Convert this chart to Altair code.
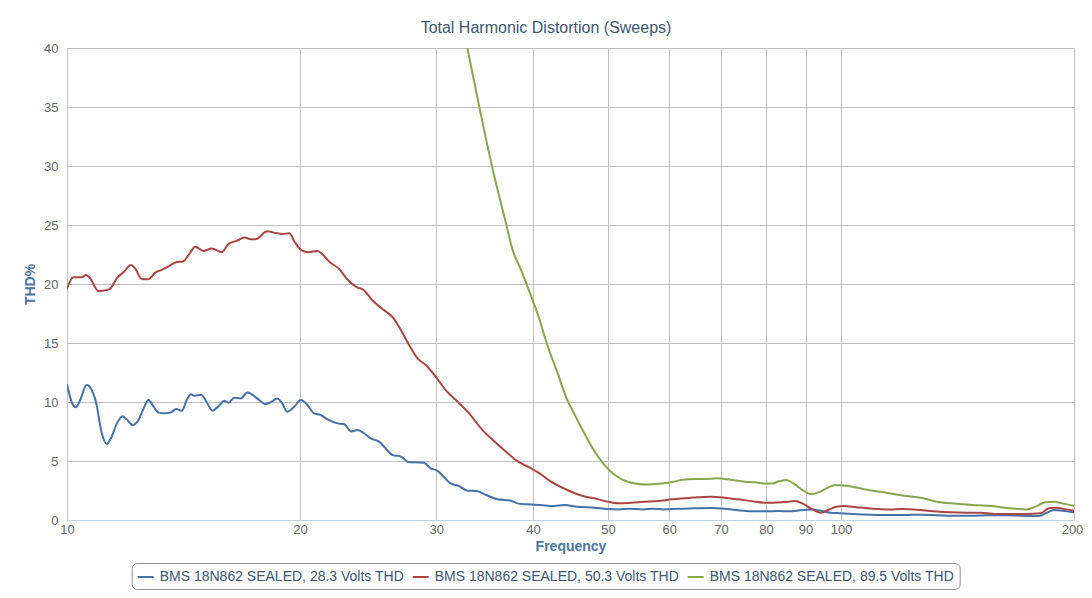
import altair as alt
import pandas as pd

series_names = [
    "BMS 18N862 SEALED, 28.3 Volts THD",
    "BMS 18N862 SEALED, 50.3 Volts THD",
    "BMS 18N862 SEALED, 89.5 Volts THD",
]
series_colors = ["#4572A7", "#AA4643", "#89A54E"]

x_ticks = [10, 20, 30, 40, 50, 60, 70, 80, 90, 100, 200]
y_ticks = [0, 5, 10, 15, 20, 25, 30, 35, 40]

blue_freq = [10.0, 10.14, 10.27, 10.4, 10.6, 10.8, 10.9, 11.09, 11.26, 11.42, 11.6, 11.8, 11.94,
             12.16, 12.37, 12.56, 12.74, 12.94, 13.13, 13.33, 13.6, 13.84, 14.07, 14.28, 14.45,
             14.63, 14.92, 15.15, 15.42, 15.7, 15.97, 16.17, 16.45, 16.75, 17.12, 17.43, 17.69,
             18.05, 18.32, 18.69, 18.96, 19.25, 19.63, 20.05, 20.45, 20.85, 21.27, 21.71, 22.37,
             22.8, 23.3, 23.73, 24.2, 24.68, 25.3, 25.8, 26.36, 27.0, 27.67, 28.2, 28.9, 29.5,
             30.1, 30.7, 31.3, 32.1, 32.93, 33.8, 34.8, 36.0, 37.5, 38.2, 39.4, 40.9, 42.6, 43.9,
             45.6, 48.0, 50.0, 51.6, 53.2, 55.3, 57.2, 59.0, 61.7, 64.7, 67.9, 70.7, 73.6, 76.6,
             79.8, 83.2, 85.8, 88.5, 91.2, 94.5, 96.8, 99.9, 103.8, 109.4, 115, 120.9, 127.1,
             133.6, 140.4, 147.6, 155.1, 163, 171.3, 180.2, 184.5, 188.3, 193.2, 200]
blue_thd = [11.5, 10.0, 9.55, 10.17, 11.44, 10.8, 10.0, 7.35, 6.44, 7.06, 8.19, 8.8, 8.53,
            8.05, 8.47, 9.46, 10.2, 9.6, 9.1, 9.04, 9.1, 9.4, 9.26, 10.17, 10.65,
            10.53, 10.6, 10.0, 9.26, 9.66, 10.1, 9.94, 10.36, 10.3, 10.8, 10.53, 10.2,
            9.83, 9.97, 10.3, 9.9, 9.18, 9.55, 10.17, 9.75, 9.04, 8.9, 8.53, 8.19,
            8.13, 7.5, 7.63, 7.35, 6.92, 6.64, 6.07, 5.5, 5.37, 4.89, 4.89, 4.86, 4.38,
            4.18, 3.62, 3.1, 2.88, 2.48, 2.46, 2.12, 1.75, 1.64, 1.41, 1.33, 1.27, 1.19, 1.27,
            1.13, 1.04, 0.93, 0.9, 0.96, 0.9, 0.96, 0.9, 0.96, 0.99, 1.02, 0.96, 0.82, 0.74,
            0.74, 0.76, 0.74, 0.82, 0.9, 0.76, 0.62, 0.57, 0.51, 0.45, 0.42, 0.42, 0.45,
            0.4, 0.36, 0.36, 0.4, 0.4, 0.36, 0.34, 0.62, 0.85, 0.79, 0.65]

red_freq = [10.0, 10.19, 10.45, 10.58, 10.71, 10.98, 11.26, 11.37, 11.6, 11.83, 12.1, 12.25,
            12.5, 12.74, 13.0, 13.26, 13.53, 13.87, 14.12, 14.36, 14.65, 15.01, 15.39, 15.85,
            16.17, 16.58, 16.95, 17.26, 17.52, 18.15, 18.52, 19.0, 19.37, 19.67, 20.05, 20.53,
            21.05, 21.9, 22.45, 23.02, 23.73, 24.1, 24.82, 25.58, 26.36, 27.0, 27.67, 28.37,
            29.08, 30.1, 30.85, 31.8, 32.93, 34.45, 35.7, 36.8, 38.1, 39.4, 40.8, 42.2, 44.3,
            46.4, 48.0, 50.0, 51.6, 53.6, 55.8, 58.0, 60.4, 62.8, 65.3, 67.9, 70.7, 73.6, 76.6,
            79.8, 81.8, 84.4, 87.3, 89.1, 91.4, 94.2, 96.7, 98.7, 100.8, 104.8, 109.9, 115.6,
            120.3, 125.2, 131.6, 138.5, 145.7, 151.6, 157.9, 166.1, 173, 181, 185.6, 189.4,
            195.4, 200]
red_thd = [19.6, 20.57, 20.57, 20.76, 20.5, 19.4, 19.5, 19.6, 20.5, 21.0, 21.6, 21.3,
           20.4, 20.4, 20.96, 21.2, 21.5, 21.86, 21.9, 22.46, 23.16, 22.8, 23.0, 22.7,
           23.4, 23.67, 23.95, 23.8, 23.8, 24.46, 24.35, 24.24, 24.3, 23.6, 22.9, 22.7,
           22.8, 21.8, 21.3, 20.4, 19.7, 19.55, 18.6, 17.86, 17.18, 16.1, 14.83, 13.7,
           13.14, 11.95, 11.0, 10.17, 9.18, 7.6, 6.64, 5.87, 5.03, 4.52, 3.95, 3.25, 2.54,
           2.03, 1.84, 1.55, 1.41, 1.47, 1.55, 1.6, 1.75, 1.84, 1.92, 1.97, 1.89, 1.75, 1.6,
           1.47, 1.47, 1.52, 1.6, 1.41, 0.99, 0.62, 0.91, 1.13, 1.19, 1.08, 0.96, 0.9,
           0.93, 0.87, 0.74, 0.65, 0.62, 0.62, 0.51, 0.51, 0.51, 0.57, 0.99, 1.04,
           0.9, 0.79]

green_freq = [32.4, 32.9, 34.1, 35.4, 36.96, 37.6, 38.6, 39.5, 40.8, 41.8, 42.9,
              44.3, 45.3, 46.6, 48.5, 50.3, 52.1, 54.2, 56.3, 58.6, 60.4, 62.2, 64.7, 66.5,
              69.3, 72.1, 75.1, 77.4, 79.4, 81.5, 83.2, 85.0, 86.8, 89.2, 91.6, 93.6, 96.2,
              98.3, 101.6, 105.6, 109.9, 114.4, 119, 123.9, 127.7, 133, 138.5, 144.2, 150.2,
              156.3, 162.8, 169.5, 173.8, 178.2, 183.6, 188.3, 193.2, 200]
green_thd = [42.0, 40.0, 35.0, 30.0, 25.0, 23.0, 21.2, 19.5, 16.95, 14.7, 12.7,
             10.17, 8.9, 7.35, 5.4, 4.15, 3.45, 3.1, 3.0, 3.1, 3.2, 3.4, 3.47, 3.47,
             3.53, 3.4, 3.25, 3.2, 3.1, 3.1, 3.28, 3.4, 3.1, 2.54, 2.18, 2.35, 2.74,
             2.97, 2.9, 2.69, 2.48, 2.31, 2.12, 1.97, 1.84, 1.55, 1.41, 1.33, 1.24,
             1.19, 1.04, 0.93, 0.9, 1.13, 1.5, 1.55, 1.41, 1.19]

rows = []
for name, fs, vs in zip(series_names,
                        [blue_freq, red_freq, green_freq],
                        [blue_thd, red_thd, green_thd]):
    for f, v in zip(fs, vs):
        rows.append({"series": name, "freq": f, "thd": v})
df = pd.DataFrame(rows)

FONT = "Liberation Sans"

chart = alt.Chart(df).mark_line(
    strokeWidth=2, interpolate="monotone", clip=True
).encode(
    x=alt.X(
        "freq:Q",
        scale=alt.Scale(type="log", domain=[10, 200], nice=False),
        axis=alt.Axis(
            values=x_ticks, format="~g", title="Frequency",
            titleFontSize=14, titleFontWeight="bold", titleColor="#4D759E", titleFont=FONT,
            titlePadding=3,
            labelColor="#666666", labelFontSize=13, labelFont=FONT, labelPadding=3,
            labelFlush=False, labelOverlap=False,
            labelOffset={"condition": {"test": "datum.value == 200", "value": -2}, "value": 0},
            ticks=False, domainColor="#C0D0E0", domainWidth=1,
            grid=True, gridColor="#C0C0C0", gridWidth=1,
        ),
    ),
    y=alt.Y(
        "thd:Q",
        scale=alt.Scale(domain=[0, 40], nice=False),
        axis=alt.Axis(
            values=y_ticks, title="THD%",
            titleFontSize=14, titleFontWeight="bold", titleColor="#4D759E", titleFont=FONT,
            titlePadding=6,
            labelColor="#666666", labelFontSize=13, labelFont=FONT, labelPadding=9,
            ticks=False, domain=False,
            grid=True, gridColor="#C0C0C0", gridWidth=1,
        ),
    ),
    color=alt.Color(
        "series:N",
        scale=alt.Scale(domain=series_names, range=series_colors),
        legend=alt.Legend(
            title=None, orient="none", legendX=64.7, legendY=515,
            direction="horizontal", columns=3,
            symbolType="stroke", symbolSize=256, symbolStrokeWidth=2,
            labelFontSize=14, labelColor="#3E576F", labelFont=FONT, labelLimit=400,
            columnPadding=4, labelOffset=5, padding=5,
            strokeColor="#909090", cornerRadius=5, fillColor="white",
        ),
    ),
).properties(
    width=1007,
    height=472,
    autosize="none",
    padding={"left": 59, "top": 40, "right": 10, "bottom": 70},
    title=alt.TitleParams(
        "Total Harmonic Distortion (Sweeps)",
        fontSize=16, font=FONT, color="#3E576F", fontWeight="normal",
        anchor="middle", frame="group", dx=-24.5, dy=19, offset=12, baseline="alphabetic",
    ),
).configure_view(
    stroke=None
).configure(
    background="white"
)

chart.save("out.html", embed_options={"renderer": "svg", "actions": False})
